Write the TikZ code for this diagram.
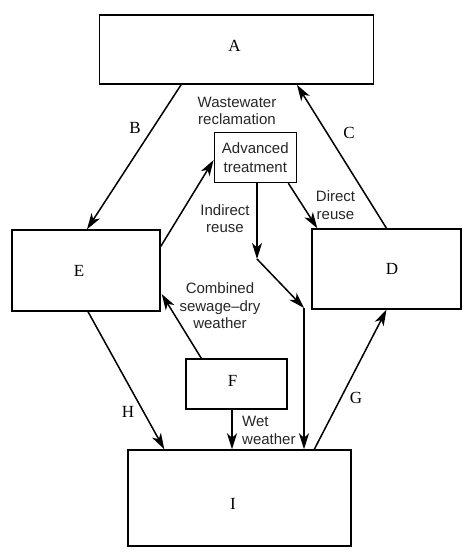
\documentclass[tikz,border=0pt]{standalone}
\usepackage{fontspec}
\setmainfont{Liberation Serif}
\setsansfont{Liberation Sans}
\usetikzlibrary{arrows.meta,calc}
\begin{document}
\begin{tikzpicture}[x=1pt,y=-1pt,
  box/.style={draw,line width=1.4pt,inner sep=0pt,font=\fontsize{17}{20}\selectfont},
  lab/.style={font=\sffamily\fontsize{15}{17.5}\selectfont,align=center,inner sep=0pt,text=black!85},
  let/.style={font=\fontsize{17}{20}\selectfont,inner sep=0pt},
  arr/.style={line width=1.5pt,-{Stealth[length=16pt,width=10pt,inset=4.5pt]}}]
\useasboundingbox (0,0) rectangle (474,553);
\node[box,minimum width=274pt,minimum height=69pt,label={[let,xshift=-2pt,yshift=4pt]center:A}] (A) at (236.5,49.7) {};
\node[box,minimum width=148pt,minimum height=81pt,label={[let,xshift=-7pt]center:E}] (E) at (86,270.5) {};
\node[box,minimum width=149pt,minimum height=80pt,label={[let,xshift=5.5pt]center:D}] (D) at (386.5,269) {};
\node[box,minimum width=82pt,minimum height=50pt,font=\sffamily\fontsize{15}{18.5}\selectfont,align=center,text=black!85] (adv) at (255.3,157.5) {Advanced\\treatment};
\node[box,minimum width=101pt,minimum height=50pt,label={[let,xshift=-4pt,yshift=3pt]center:F}] (F) at (236.5,384) {};
\node[box,minimum width=223pt,minimum height=96pt,label={[let,xshift=-6.5pt,yshift=-6pt]center:I}] (I) at (239.5,498) {};
\coordinate (k1) at (257,259);
\coordinate (k2) at (304,308);
% connectors
\draw[arr] ($(A.south)+(-55.5,0)$) -- ($(E.north)+(1,0)$);
\draw[arr] (D.north) -- ($(A.south)+(60.5,0)$);
\draw[arr] ($(E.east)+(0,-24)$) -- ($(adv.west)+(0,2.5)$);
\draw[arr] ($(adv.south)+(33,0)$) -- ($(D.north west)+(6,0)$);
\draw[arr] ($(adv.south)+(1.7,0)$) -- (k1);
\draw[arr] (k1) -- (k2);
\draw[arr] (k2) -- ($(I.north)+(64.5,0)$);
\draw[arr] ($(F.north west)+(16,0)$) -- ($(E.east)+(1,23.5)$);
\draw[arr] ($(F.south)+(-4.5,0)$) -- ($(I.north)+(-7.5,0)$);
\draw[arr] ($(E.south)+(2,0)$) -- ($(I.north west)+(37,0)$);
\draw[arr] ($(I.north west)+(187,0)$) -- (D.south);
% labels
\node[lab] (wr) at (237,111) {Wastewater\\reclamation};
\node[let] (lB) at (135,128) {B};
\node[let] (lC) at (349,133) {C};
\node[lab] (ir) at (225,218.5) {Indirect\\reuse};
\node[lab] (dr) at (335.5,205) {Direct\\reuse};
\node[lab] (cs) at (220,306) {Combined\\sewage--dry\\weather};
\node[let] (lH) at (128,412) {H};
\node[let] (lG) at (356,398) {G};
\node[lab,align=left,anchor=west] (ww) at (242,430.5) {Wet\\weather};
\end{tikzpicture}
\end{document}
